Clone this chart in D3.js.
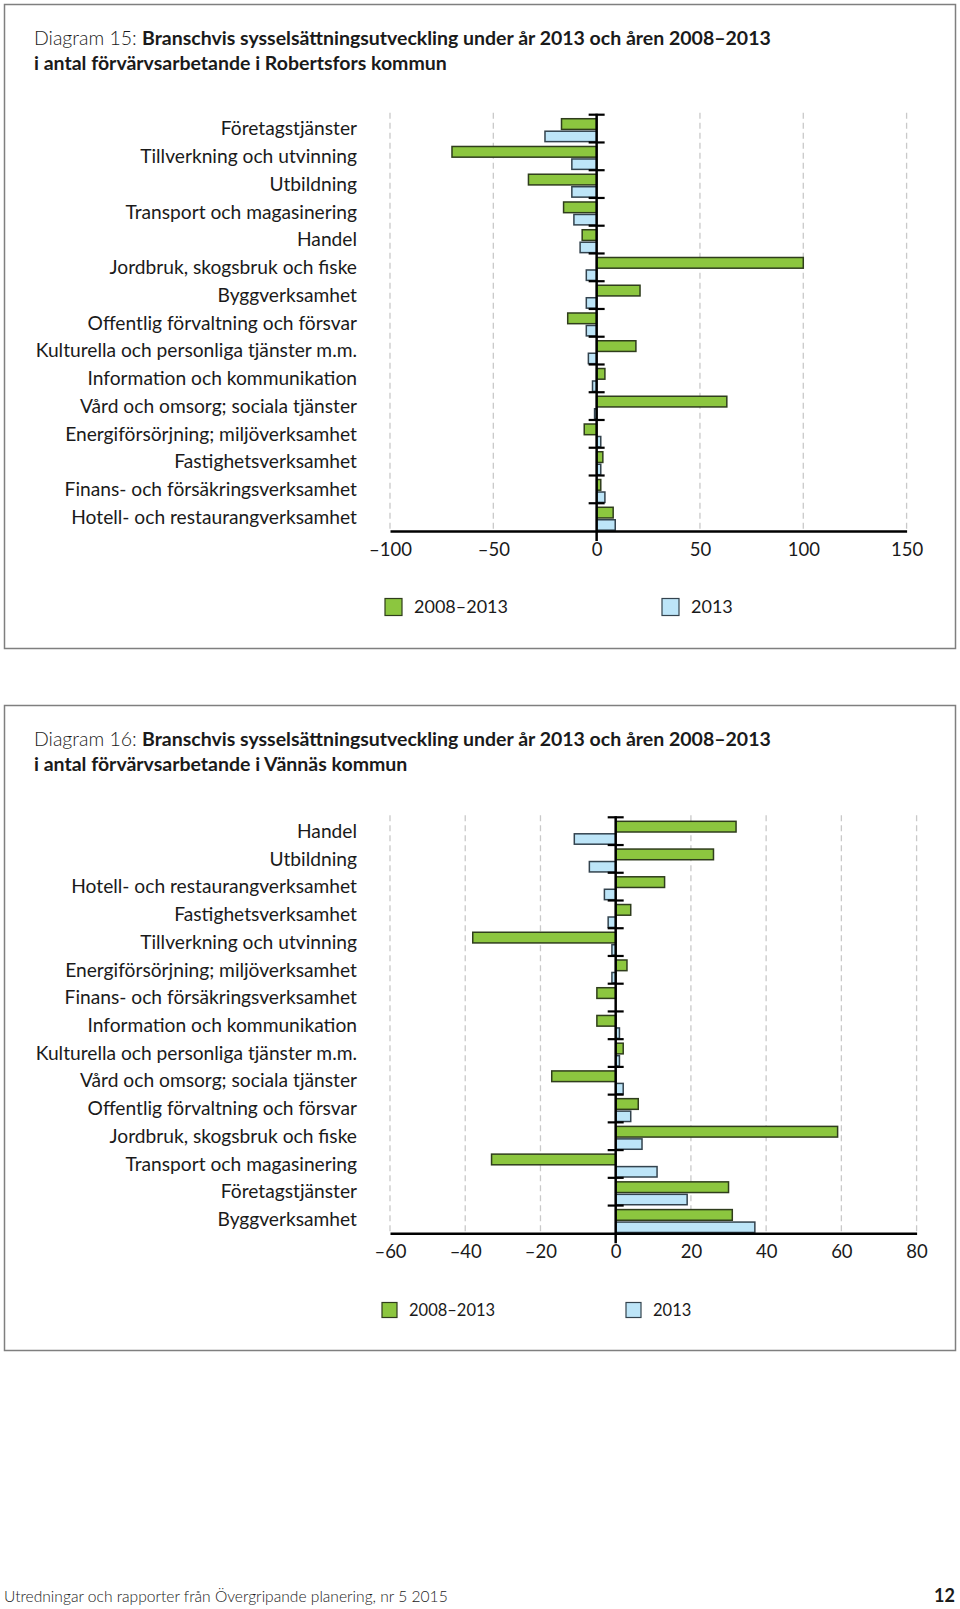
<!DOCTYPE html>
<html>
<head>
<meta charset="utf-8">
<script src="https://cdn.jsdelivr.net/npm/d3@7"></script>
<style>
  body { margin: 0; background: #fff; }
  text { font-family: Lato, "Open Sans", sans-serif; fill: #1a1a1a; }
</style>
</head>
<body>
<script>
const width = 960;
const height = 1609;

// Diagram 15 – Robertsfors
const categories15 = [
  "Företagstjänster",
  "Tillverkning och utvinning",
  "Utbildning",
  "Transport och magasinering",
  "Handel",
  "Jordbruk, skogsbruk och fiske",
  "Byggverksamhet",
  "Offentlig förvaltning och försvar",
  "Kulturella och personliga tjänster m.m.",
  "Information och kommunikation",
  "Vård och omsorg; sociala tjänster",
  "Energiförsörjning; miljöverksamhet",
  "Fastighetsverksamhet",
  "Finans- och försäkringsverksamhet",
  "Hotell- och restaurangverksamhet"
];
const change15 = [-17, -70, -33, -16, -7, 100, 21, -14, 19, 4, 63, -6, 3, 2, 8];
const year15 = [-25, -12, -12, -11, -8, -5, -5, -5, -4, -2, -1, 2, 2, 4, 9];
const ticks15 = [-100, -50, 0, 50, 100, 150];

// Diagram 16 – Vännäs
const categories16 = [
  "Handel",
  "Utbildning",
  "Hotell- och restaurangverksamhet",
  "Fastighetsverksamhet",
  "Tillverkning och utvinning",
  "Energiförsörjning; miljöverksamhet",
  "Finans- och försäkringsverksamhet",
  "Information och kommunikation",
  "Kulturella och personliga tjänster m.m.",
  "Vård och omsorg; sociala tjänster",
  "Offentlig förvaltning och försvar",
  "Jordbruk, skogsbruk och fiske",
  "Transport och magasinering",
  "Företagstjänster",
  "Byggverksamhet"
];
const change16 = [32, 26, 13, 4, -38, 3, -5, -5, 2, -17, 6, 59, -33, 30, 31];
const year16 = [-11, -7, -3, -2, -1, -1, 0, 1, 1, 2, 4, 7, 11, 19, 37];
const ticks16 = [-60, -40, -20, 0, 20, 40, 60, 80];

const seriesNames = ["2008–2013", "2013"];
const colors = { green: "#8cc63f", greenStroke: "#2f3d1c", blue: "#bde5f8", blueStroke: "#33434e" };

const svg = d3.select("body").append("svg")
  .attr("width", width)
  .attr("height", height)
  .attr("viewBox", [0, 0, width, height]);

svg.append("rect").attr("width", width).attr("height", height).attr("fill", "#fff");

const fmt = (v) => (v < 0 ? "\u2013" + Math.abs(v) : String(v));

function drawChart(o) {
  const g = svg.append("g");

  g.append("rect")
    .attr("x", 4.5).attr("y", o.frame[0])
    .attr("width", 951).attr("height", o.frame[1] - o.frame[0])
    .attr("fill", "none").attr("stroke", "#7f7f7f").attr("stroke-width", 1.5);

  const title = g.append("text").attr("x", 34).attr("y", o.titleY).attr("font-size", "19.5px");
  title.append("tspan").attr("font-weight", 300).text(o.diagram + ":  ");
  title.append("tspan").attr("font-weight", 700).text("Branschvis sysselsättningsutveckling under år 2013 och åren 2008–2013");
  g.append("text").attr("x", 34).attr("y", o.titleY + 25)
    .attr("font-size", "19.5px").attr("font-weight", 700)
    .text("i antal förvärvsarbetande i " + o.kommun);

  const x = d3.scaleLinear().domain(o.domain).range([390, o.xRight]);
  const y = d3.scaleBand().domain(o.categories).range([o.top, o.bottom]).padding(0);
  const bw = y.bandwidth();

  // dashed grid
  g.append("g").selectAll("line")
    .data(o.ticks.filter((t) => t !== 0))
    .join("line")
    .attr("x1", (d) => x(d)).attr("x2", (d) => x(d))
    .attr("y1", o.top - 2).attr("y2", o.bottom)
    .attr("stroke", "#c9c9c9").attr("stroke-width", 1.3)
    .attr("stroke-dasharray", "6,4");

  const rows = o.categories.map((c, i) => ({ cat: c, a: o.change[i], b: o.year[i] }));

  g.append("g").selectAll("rect")
    .data(rows)
    .join("rect")
    .attr("x", (d) => x(Math.min(0, d.a)))
    .attr("y", (d) => y(d.cat) + bw * 0.145)
    .attr("width", (d) => Math.abs(x(d.a) - x(0)))
    .attr("height", bw * 0.385)
    .attr("fill", colors.green)
    .attr("stroke", colors.greenStroke).attr("stroke-width", 1.5);

  g.append("g").selectAll("rect")
    .data(rows.filter((d) => d.b !== 0))
    .join("rect")
    .attr("x", (d) => x(Math.min(0, d.b)))
    .attr("y", (d) => y(d.cat) + bw * 0.595)
    .attr("width", (d) => Math.abs(x(d.b) - x(0)))
    .attr("height", bw * 0.375)
    .attr("fill", colors.blue)
    .attr("stroke", colors.blueStroke).attr("stroke-width", 1.5);

  // category labels
  g.append("g").selectAll("text")
    .data(o.categories)
    .join("text")
    .attr("x", 357)
    .attr("y", (d) => y(d) + bw / 2)
    .attr("dy", "0.35em")
    .attr("text-anchor", "end")
    .attr("font-size", "19.2px")
    .text((d) => d);

  // bottom axis
  const xAxis = g.append("g")
    .attr("transform", `translate(0,${o.bottom})`)
    .call(d3.axisBottom(x).tickValues(o.ticks).tickSize(0).tickPadding(12).tickFormat(fmt));
  xAxis.select(".domain").attr("stroke", "#000").attr("stroke-width", 2.5);
  xAxis.selectAll("text").attr("font-size", "18.5px").attr("font-family", "Lato, sans-serif").attr("fill", "#1a1a1a");

  // zero axis with category ticks
  g.append("line")
    .attr("x1", x(0)).attr("x2", x(0))
    .attr("y1", o.top - 1).attr("y2", o.bottom + 10)
    .attr("stroke", "#000").attr("stroke-width", 2.5);
  g.append("g").selectAll("line")
    .data(o.categories)
    .join("line")
    .attr("x1", x(0) - 8).attr("x2", x(0) + 8)
    .attr("y1", (d) => y(d)).attr("y2", (d) => y(d))
    .attr("stroke", "#000").attr("stroke-width", 2.2);

  // legend
  const lg = g.append("g");
  const lx = [o.legendX[0], o.legendX[1]];
  const fills = [[colors.green, colors.greenStroke], [colors.blue, colors.blueStroke]];
  seriesNames.forEach((name, i) => {
    lg.append("rect")
      .attr("x", lx[i]).attr("y", o.legendY - o.legendSize / 2)
      .attr("width", o.legendSize).attr("height", o.legendSize)
      .attr("fill", fills[i][0]).attr("stroke", fills[i][1]).attr("stroke-width", 1.2);
    lg.append("text")
      .attr("x", lx[i] + o.legendSize + 12).attr("y", o.legendY)
      .attr("dy", "0.35em").attr("font-size", o.legendFont)
      .text(name);
  });
}

drawChart({
  frame: [4.5, 648.5],
  diagram: "Diagram 15",
  kommun: "Robertsfors kommun",
  titleY: 45,
  categories: categories15,
  change: change15,
  year: year15,
  ticks: ticks15,
  domain: [-100, 150],
  xRight: 906.6,
  top: 114.7,
  bottom: 531,
  legendX: [385, 662],
  legendY: 607,
  legendSize: 17,
  legendFont: "18px"
});

drawChart({
  frame: [705.5, 1350.5],
  diagram: "Diagram 16",
  kommun: "Vännäs kommun",
  titleY: 746,
  categories: categories16,
  change: change16,
  year: year16,
  ticks: ticks16,
  domain: [-60, 80],
  xRight: 916.6,
  top: 817.3,
  bottom: 1233.3,
  legendX: [382, 626],
  legendY: 1310,
  legendSize: 15,
  legendFont: "16.5px"
});

svg.append("text")
  .attr("x", 4).attr("y", 1602)
  .attr("font-size", "15.6px").attr("font-weight", 300)
  .text("Utredningar och rapporter från Övergripande planering, nr 5 2015");
svg.append("text")
  .attr("x", 955).attr("y", 1602)
  .attr("text-anchor", "end")
  .attr("font-size", "18px").attr("font-weight", 700)
  .text("12");
</script>
</body>
</html>
